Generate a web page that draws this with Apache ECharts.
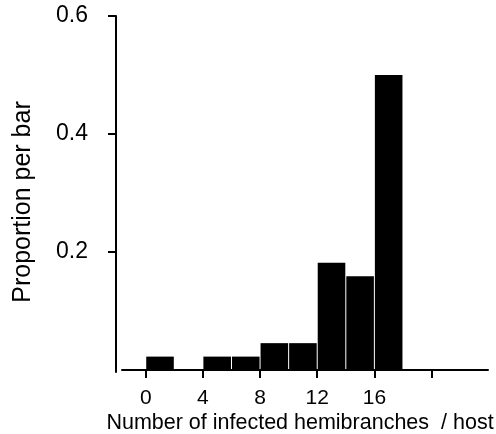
<!DOCTYPE html>
<html>
<head>
<meta charset="utf-8">
<script src="https://cdn.jsdelivr.net/npm/echarts@6/dist/echarts.min.js"></script>
<style>
  html, body { margin: 0; padding: 0; background: #fff; }
  #main { width: 496px; height: 434px; }
</style>
</head>
<body>
<div id="main"></div>
<script>
// histogram bins (number of infected hemibranches per host), width 2
var binLo = [0, 2, 4, 6, 8, 10, 12, 14, 16];
var binHi = [2, 4, 6, 8, 10, 12, 14, 16, 18];
var proportions = [0.0227, 0, 0.0227, 0.0227, 0.0455, 0.0455, 0.1818, 0.1591, 0.5];

var xTicks = [0, 4, 8, 12, 16, 20];
var xLabels = [0, 4, 8, 12, 16];
var yTicks = [0.2, 0.4, 0.6];

var font = "'Liberation Sans', Arial, sans-serif";

var myChart = echarts.init(document.getElementById('main'));

var data = binLo.map(function (lo, i) {
  return [lo, binHi[i], proportions[i]];
});

var option = {
  backgroundColor: '#fff',
  animation: false,
  grid: { left: 122, right: 8, top: 16, bottom: 62, outerBoundsMode: 'none', containLabel: false },
  xAxis: {
    type: 'value',
    min: -1.66,
    max: 23.95,
    name: 'Number of infected hemibranches  / host',
    nameLocation: 'middle',
    nameGap: 40,
    nameMoveOverlap: false,
    nameTextStyle: { color: '#000', fontSize: 21.5, fontFamily: font, padding: [0, 10, 0, 0] },
    axisLine: { onZero: true, lineStyle: { color: '#000', width: 2 } },
    axisTick: { show: true, customValues: xTicks, length: 8, lineStyle: { color: '#000', width: 2 } },
    axisLabel: { customValues: xLabels, margin: 16, color: '#000', fontSize: 21, fontFamily: font },
    splitLine: { show: false }
  },
  yAxis: {
    type: 'value',
    min: -0.0034,
    max: 0.6,
    offset: 6,
    name: 'Proportion per bar',
    nameLocation: 'middle',
    nameGap: 80,
    nameMoveOverlap: false,
    nameTextStyle: { color: '#000', fontSize: 25, fontFamily: font, padding: [0, 16, 0, 0] },
    axisLine: { show: true, onZero: false, lineStyle: { color: '#000', width: 2 } },
    axisTick: { show: true, customValues: yTicks, length: 8, lineStyle: { color: '#000', width: 2 } },
    axisLabel: {
      customValues: yTicks, margin: 28, color: '#000', fontSize: 23, fontFamily: font,
      formatter: function (v) { return v.toFixed(1); }
    },
    splitLine: { show: false }
  },
  series: [{
    type: 'custom',
    data: data,
    encode: { x: [0, 1], y: 2 },
    renderItem: function (params, api) {
      var v = api.value(2);
      if (!v) return null;
      var p0 = api.coord([api.value(0), v]);
      var p1 = api.coord([api.value(1), 0]);
      return {
        type: 'rect',
        shape: { x: p0[0] + 0.5, y: p0[1], width: p1[0] - p0[0] - 1, height: p1[1] - p0[1] },
        style: { fill: '#000', stroke: null }
      };
    }
  }]
};

myChart.setOption(option);
</script>
</body>
</html>
